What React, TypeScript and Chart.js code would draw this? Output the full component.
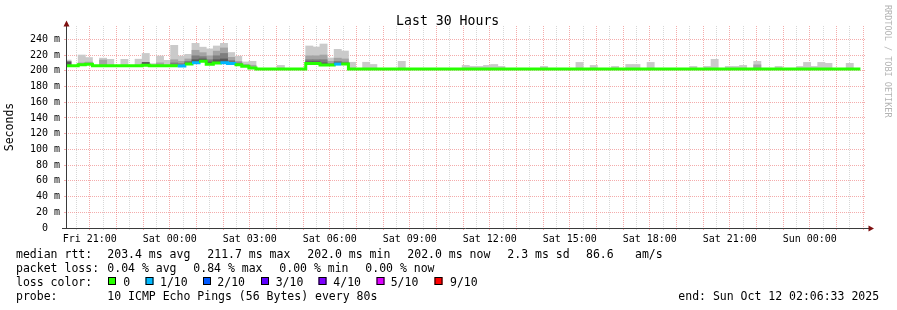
import React, { useEffect, useRef } from 'react';
import { Chart, registerables } from 'chart.js';

Chart.register(...registerables);

const FONT = '"DejaVu Sans Mono", "Liberation Mono", monospace';

// ---- time axis (minutes relative to Fri 21:00) ----
const RANGE_START = -53.45; // Fri 20:06:33
const RANGE_END = 1746.55; // Sun 02:06:33
const BIN_START = -58; // first 16-minute consolidation step
const BIN_MINUTES = 16;
const tickLabels = ['Fri 21:00', 'Sat 00:00', 'Sat 03:00', 'Sat 06:00', 'Sat 09:00', 'Sat 12:00', 'Sat 15:00', 'Sat 18:00', 'Sat 21:00', 'Sun 00:00'];
const tickLabelMinutes = [0, 180, 360, 540, 720, 900, 1080, 1260, 1440, 1620];

// ---- median rtt per 16-minute step (ms) ----
const median = [
  206.4, 206.4, 207.6, 208.2, 206.4, 206.4, 206.4, 206.4, 206.4, 206.4, 206.4, 207.2, 206.4, 206.4, 206.4, 206.4,
  206.2, 208.5, 210.2, 212.0, 208.2, 209.8, 210.2, 209.4, 207.6, 205.8, 203.5, 202.2, 202.2, 202.2, 202.2, 202.2,
  202.2, 202.2, 209.4, 209.4, 207.4, 207.4, 208.5, 208.5, 202.4, 202.2, 202.2, 202.2, 202.2, 202.2, 202.2, 202.2,
  202.2, 202.2, 202.2, 202.2, 202.2, 202.2, 202.2, 202.2, 202.2, 202.2, 202.2, 202.2, 202.2, 202.2, 202.2, 202.2,
  202.2, 202.2, 202.2, 202.2, 202.2, 202.2, 202.2, 202.2, 202.2, 202.2, 202.2, 202.2, 202.2, 202.2, 202.2, 202.2,
  202.2, 202.2, 202.2, 202.2, 202.2, 202.2, 202.2, 202.2, 202.2, 202.2, 202.2, 202.2, 202.2, 202.2, 202.2, 202.2,
  202.2, 202.2, 202.2, 202.2, 202.2, 202.2, 202.2, 202.2, 202.2, 202.2, 202.2, 202.2, 202.2, 202.2, 202.2, 202.2,
];

// ---- lost pings (out of 10) per step ----
const loss = [
  0, 0, 0, 0, 0, 0, 0, 0, 0, 0, 0, 0, 0, 0, 0, 0,
  1, 0, 1, 0, 0, 0, 1, 1, 0, 0, 0, 0, 0, 0, 0, 0,
  0, 0, 0, 0, 0, 0, 1, 0, 0, 0, 0, 0, 0, 0, 0, 0,
  0, 0, 0, 0, 0, 0, 0, 0, 0, 0, 0, 0, 0, 0, 0, 0,
  0, 0, 0, 0, 0, 0, 0, 0, 0, 0, 0, 0, 0, 0, 0, 0,
  0, 0, 0, 0, 0, 0, 0, 0, 0, 0, 0, 0, 0, 0, 0, 0,
  0, 0, 0, 0, 0, 0, 0, 0, 0, 0, 0, 0, 0, 0, 0, 0,
];

// ---- smoke: highest ping per step (ms), null = hidden under the median ----
const smokeMax = [
  213.6, null, 220.0, 216.8, null, 216.0, 214.5, null, 214.5, null, 214.7, 222.0, 209.0, 218.7, 213.2, 232.3,
  218.7, 220.9, 234.9, 230.0, 227.8, 231.5, 234.9, 223.2, 218.5, 211.2, 212.0, null, null, null, 206.8, null,
  null, null, 231.5, 230.2, 234.0, 216.2, 227.2, 225.1, 210.8, null, 210.8, 208.0, null, null, null, 212.0,
  null, null, null, null, null, null, null, null, 206.8, 205.5, 205.5, 206.8, 208.0, 205.5, null, null,
  null, null, null, 205.5, null, null, null, null, 210.6, null, 206.8, null, null, 205.5, null, 208.0,
  208.0, null, 210.6, null, null, null, null, null, 205.5, null, 205.5, 214.5, null, 205.5, 205.5, 206.8,
  null, 212.0, null, null, 205.5, null, null, 205.5, 210.6, 205.5, 210.6, 209.4, null, null, 209.4, null,
];

// ---- inner smoke layers: [step index, upper ping ms] ----
const smokeLayer2 = [
  [2, 210], [3, 211], [5, 213.6], [13, 210], [15, 214], [16, 212], [17, 215], [18, 226], [19, 223], [20, 219],
  [21, 225], [22, 229], [23, 217], [24, 212], [25, 208], [26, 207], [34, 219], [35, 219], [36, 220], [37, 212],
  [38, 216], [39, 215], [97, 207.5],
];
const smokeLayer3 = [
  [15, 210], [16, 209], [17, 212], [18, 219], [19, 218], [20, 214], [21, 219], [22, 222], [23, 213], [24, 210],
  [34, 214], [35, 214], [36, 214], [37, 209], [38, 212], [39, 211],
];
const smokeLayer4 = [
  [0, 211.5], [11, 210.6], [17, 210], [18, 214], [19, 215], [20, 211], [21, 214], [22, 215], [23, 211],
  [34, 211.5], [35, 211.5], [36, 210], [38, 210],
];

const lossColors = ['#26ff00', '#00b8ff', '#0059ff', '#5e00ff', '#7e00ff', '#dd00ff', '#dd00ff', '#ff0000', '#ff0000', '#ff0000', '#ff0000'];
const lossLegend = ['0', '1/10', '2/10', '3/10', '4/10', '5/10', '9/10'];
const lossLegendColors = ['#26ff00', '#00b8ff', '#0059ff', '#5e00ff', '#7e00ff', '#dd00ff', '#ff0000'];
const smokeColors = ['#cacaca', '#a4a4a4', '#7e7e7e', '#585858'];

const statsRtt = ['median rtt:', '203.4 ms avg', '211.7 ms max', '202.0 ms min', '202.0 ms now', '2.3 ms sd', '86.6', 'am/s'];
const statsLoss = ['packet loss:', '0.04 % avg', '0.84 % max', '0.00 % min', '0.00 % now'];
const probeText = ['probe:', '10 ICMP Echo Pings (56 Bytes) every 80s'];
const endText = 'end: Sun Oct 12 02:06:33 2025';
const titleText = 'Last 30 Hours';
const yTitle = 'Seconds';
const watermark = 'RRDTOOL / TOBI OETIKER';

const GRID = 'rgba(175,175,175,0.5)';
const MGRID = 'rgba(230,70,70,0.45)';
const AXIS = '#3a3a3a';
const ARROW = '#7f1010';

const stepStart = (i: number) => BIN_START + i * BIN_MINUTES;
const stepCenter = (i: number) => stepStart(i) + BIN_MINUTES / 2;

function smokeData(pairs: number[][]) {
  return pairs.map(([i, top]) => ({ x: stepCenter(i), y: [median[i], top] }));
}

const extrasPlugin = {
  id: 'smokeExtras',
  afterDraw(chart: any) {
    const { ctx, chartArea: a } = chart;
    ctx.save();
    // axes
    ctx.strokeStyle = AXIS;
    ctx.lineWidth = 1;
    ctx.beginPath();
    ctx.moveTo(a.left + 0.5, 22);
    ctx.lineTo(a.left + 0.5, a.bottom + 0.5);
    ctx.moveTo(a.left - 4, a.bottom + 0.5);
    ctx.lineTo(a.right + 3, a.bottom + 0.5);
    ctx.stroke();
    // arrows
    ctx.fillStyle = ARROW;
    ctx.beginPath();
    ctx.moveTo(a.left + 0.5, 20.5);
    ctx.lineTo(a.left + 3.5, 26.5);
    ctx.lineTo(a.left - 2.5, 26.5);
    ctx.closePath();
    ctx.fill();
    ctx.beginPath();
    ctx.moveTo(a.right + 8, a.bottom + 0.5);
    ctx.lineTo(a.right + 2.5, a.bottom - 2.5);
    ctx.lineTo(a.right + 2.5, a.bottom + 3.5);
    ctx.closePath();
    ctx.fill();

    // title
    ctx.fillStyle = '#000';
    ctx.font = `13.2px ${FONT}`;
    ctx.textAlign = 'center';
    ctx.textBaseline = 'alphabetic';
    ctx.fillText(titleText, 447.7, 24.5);

    // watermark
    ctx.save();
    ctx.fillStyle = '#b4b4b4';
    ctx.font = `8.5px ${FONT}`;
    ctx.textAlign = 'left';
    ctx.translate(885, 5);
    ctx.rotate(Math.PI / 2);
    ctx.fillText(watermark, 0, 0);
    ctx.restore();

    // legend
    ctx.fillStyle = '#000';
    ctx.font = `11.5px ${FONT}`;
    ctx.textAlign = 'left';
    const rttX = [16, 107.3, 207.3, 307.3, 407.3, 507.3, 586, 635];
    statsRtt.forEach((t, i) => ctx.fillText(t, rttX[i], 258));
    const lossX = [16, 107.3, 193.3, 279.3, 365.3];
    statsLoss.forEach((t, i) => ctx.fillText(t, lossX[i], 272));
    ctx.fillText('loss color:', 16, 285.5);
    const boxX = [108, 145.5, 203, 261, 318.5, 376.5, 434.5];
    const labX = [123.3, 160, 217.3, 275.7, 333.3, 390.7, 450];
    lossLegend.forEach((t, i) => {
      ctx.fillStyle = lossLegendColors[i];
      ctx.fillRect(boxX[i], 277, 8, 8);
      ctx.strokeStyle = '#000';
      ctx.strokeRect(boxX[i] + 0.5, 277.5, 7, 7);
      ctx.fillStyle = '#000';
      ctx.fillText(t, labX[i], 285.5);
    });
    ctx.fillText(probeText[0], 16, 299.5);
    ctx.fillText(probeText[1], 107.3, 299.5);
    ctx.fillText(endText, 678.3, 299.5);
    ctx.restore();
  },
};

export default function App() {
  const ref = useRef<HTMLCanvasElement>(null);
  useEffect(() => {
    const linePoints: { x: number; y: number }[] = [];
    median.forEach((v, i) => {
      linePoints.push({ x: stepStart(i), y: v });
      linePoints.push({ x: stepStart(i + 1), y: v });
    });
    const outer = median
      .map((m, i) => [i, smokeMax[i]])
      .filter((p) => p[1] !== null) as number[][];

    const barCommon = {
      type: 'bar' as const,
      grouped: false,
      categoryPercentage: 1,
      barPercentage: 1,
      borderWidth: 0,
      inflateAmount: 0.4,
    };

    const chart = new Chart(ref.current!, {
      type: 'line',
      data: {
        datasets: [
          {
            type: 'line',
            data: linePoints,
            borderColor: lossColors[0],
            borderWidth: 3,
            pointRadius: 0,
            tension: 0,
            borderCapStyle: 'butt',
            borderJoinStyle: 'miter',
            segment: {
              borderColor: (c: any) => lossColors[loss[Math.floor(c.p0DataIndex / 2)] || 0],
            },
            order: 0,
          } as any,
          { ...barCommon, data: smokeData(smokeLayer4), backgroundColor: smokeColors[3], order: 1 } as any,
          { ...barCommon, data: smokeData(smokeLayer3), backgroundColor: smokeColors[2], order: 2 } as any,
          { ...barCommon, data: smokeData(smokeLayer2), backgroundColor: smokeColors[1], order: 3 } as any,
          { ...barCommon, data: smokeData(outer), backgroundColor: smokeColors[0], order: 4 } as any,
        ],
      },
      options: {
        responsive: false,
        devicePixelRatio: 1,
        animation: false,
        events: [],
        layout: { padding: { top: 26, right: 31, bottom: 0, left: 0 } },
        plugins: { legend: { display: false }, tooltip: { enabled: false }, title: { display: false } },
        scales: {
          x: {
            type: 'linear',
            min: RANGE_START,
            max: RANGE_END,
            offset: false,
            z: 1,
            afterBuildTicks: (scale: any) => {
              const ticks = [];
              for (let m = -30; m <= RANGE_END; m += 30) ticks.push({ value: m });
              scale.ticks = ticks;
            },
            afterFit: (scale: any) => {
              scale.height = 82;
            },
            grid: {
              offset: false,
              color: (c: any) => (c.tick && c.tick.value % 60 === 0 ? MGRID : GRID),
              lineWidth: 1,
              drawTicks: true,
              tickLength: 2,
            },
            border: { display: false, dash: [1, 1] },
            ticks: {
              autoSkip: false,
              maxRotation: 0,
              minRotation: 0,
              padding: 3,
              color: '#000',
              font: { family: FONT, size: 10 },
              callback: (v: any) => {
                const idx = tickLabelMinutes.indexOf(Number(v));
                return idx >= 0 ? tickLabels[idx] : '';
              },
            },
          },
          y: {
            type: 'linear',
            min: 0,
            max: 257,
            z: 1,
            afterBuildTicks: (scale: any) => {
              const ticks = [];
              for (let v = 0; v <= 250; v += 10) ticks.push({ value: v });
              scale.ticks = ticks;
            },
            afterFit: (scale: any) => {
              scale.width = 66;
            },
            grid: {
              color: (c: any) => (c.tick && c.tick.value % 20 === 0 ? MGRID : GRID),
              lineWidth: 1,
              drawTicks: true,
              tickLength: 2,
            },
            border: { display: false, dash: [1, 1] },
            title: {
              display: true,
              text: yTitle,
              color: '#000',
              font: { family: FONT, size: 11.5 },
              padding: { top: 3, bottom: 0 },
            },
            ticks: {
              padding: 4,
              color: '#000',
              font: { family: FONT, size: 10 },
              callback: (v: any) => {
                const n = Number(v);
                if (n % 20 !== 0) return '';
                return n === 0 ? '0  ' : `${n} m`;
              },
            },
          },
        },
      },
      plugins: [extrasPlugin],
    } as any);
    return () => chart.destroy();
  }, []);

  return (
    <div style={{ position: 'fixed', left: 0, top: 0, width: 897, height: 310, background: '#fff' }}>
      <canvas ref={ref} width={897} height={310} style={{ display: 'block', width: 897, height: 310 }} />
    </div>
  );
}
